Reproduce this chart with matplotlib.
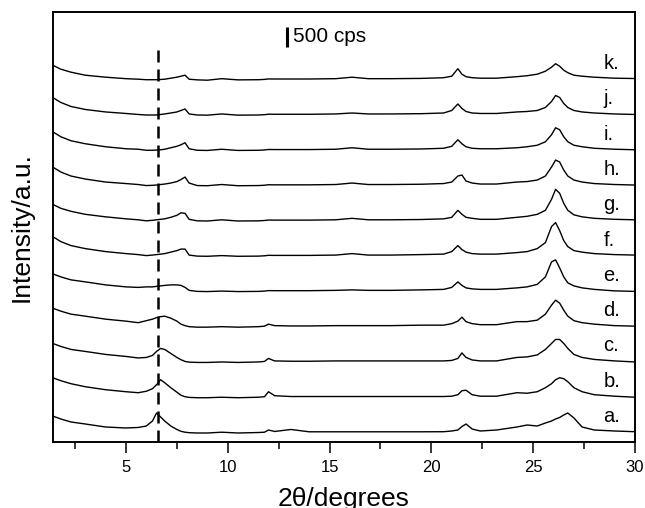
import matplotlib
matplotlib.use("Agg")
import matplotlib.pyplot as plt
import numpy as np

plt.rcParams["font.family"] = ["Liberation Sans", "DejaVu Sans"]

# 2theta grid (degrees) shared by all patterns
two_theta = [1.4, 1.8, 2.3, 3.0, 4.0, 5.0, 5.6,
             6.0, 6.3, 6.5, 6.7, 6.9, 7.2, 7.5, 7.7, 7.9, 8.1, 8.5,
             9.0, 9.7, 10.5, 11.5, 11.8, 12.0, 12.3, 13.1, 14.0, 15.3, 16.1, 16.9, 18.0, 19.5, 20.6,
             21.0, 21.3, 21.5, 21.7, 22.0, 22.4, 23.2,
             24.2, 24.7, 25.2, 25.6, 25.9, 26.1, 26.3, 26.5, 26.7, 27.0, 27.4, 28.0, 29.0, 30.0]

# intensities (cps above each pattern's own baseline)
trace_a = [425, 350, 275, 225, 150, 125, 138,
           175, 300, 500, 400, 300, 175, 88, 42, 20, 8, 0,
           0, 20, 0, 12, 20, 75, 38, 88, 30, 30, 30, 30, 30, 30, 32,
           50, 75, 162, 225, 100, 50, 75,
           150, 200, 175, 250, 300, 350, 388, 450, 500, 375, 150, 75, 50, 32]
trace_b = [500, 425, 350, 275, 200, 150, 125,
           162, 225, 325, 450, 375, 250, 138, 62, 25, 8, 0,
           0, 12, 0, 12, 25, 150, 50, 30, 30, 30, 30, 30, 30, 30, 30,
           38, 75, 175, 188, 75, 38, 38,
           125, 112, 150, 250, 350, 450, 500, 475, 400, 250, 150, 75, 38, 12]
trace_c = [475, 400, 325, 275, 200, 150, 112,
           125, 175, 275, 350, 325, 225, 125, 68, 25, 8, 0,
           0, 12, 0, 12, 25, 100, 38, 30, 30, 38, 38, 38, 38, 38, 38,
           50, 100, 238, 125, 62, 38, 38,
           125, 138, 188, 325, 475, 575, 575, 475, 350, 200, 125, 75, 38, 12]
trace_d = [475, 400, 325, 275, 200, 150, 112,
           162, 200, 238, 262, 275, 225, 150, 75, 38, 12, 0,
           0, 12, 0, 12, 25, 75, 38, 30, 30, 38, 38, 38, 38, 50, 50,
           88, 150, 250, 138, 88, 62, 62,
           138, 138, 175, 325, 550, 675, 600, 425, 275, 162, 112, 75, 38, 25]
trace_e = [450, 375, 300, 250, 175, 125, 112,
           125, 125, 138, 150, 162, 175, 175, 162, 112, 38, 12,
           8, 20, 8, 12, 20, 32, 30, 30, 30, 38, 50, 38, 38, 50, 62,
           112, 250, 162, 100, 75, 62, 62,
           100, 125, 188, 375, 750, 800, 600, 375, 225, 150, 100, 62, 25, 12]
trace_f = [500, 375, 275, 200, 125, 75, 50,
           25, 38, 50, 62, 75, 112, 150, 188, 188, 38, 12,
           8, 25, 8, 12, 20, 32, 30, 30, 30, 38, 75, 38, 38, 50, 62,
           125, 275, 175, 112, 75, 62, 62,
           100, 125, 200, 350, 750, 850, 650, 400, 250, 150, 112, 75, 50, 38]
trace_g = [425, 325, 250, 175, 112, 62, 38,
           12, 25, 38, 50, 62, 100, 150, 212, 200, 50, 12,
           8, 38, 8, 12, 20, 32, 30, 30, 30, 38, 75, 38, 38, 45, 62,
           100, 275, 175, 100, 75, 50, 50,
           100, 125, 175, 275, 550, 800, 700, 450, 275, 162, 112, 75, 50, 38]
trace_h = [475, 350, 250, 175, 100, 62, 38,
           12, 18, 25, 38, 50, 75, 112, 162, 225, 75, 12,
           8, 38, 8, 12, 20, 32, 30, 30, 30, 38, 75, 38, 38, 45, 62,
           100, 250, 275, 125, 75, 50, 50,
           100, 112, 150, 250, 475, 650, 600, 400, 250, 150, 100, 62, 38, 25]
trace_i = [475, 350, 250, 175, 100, 50, 38,
           12, 12, 18, 25, 38, 75, 112, 150, 200, 50, 12,
           8, 38, 8, 12, 20, 32, 30, 30, 30, 38, 75, 38, 38, 45, 62,
           112, 275, 175, 100, 62, 50, 50,
           75, 100, 138, 225, 400, 575, 525, 350, 225, 138, 100, 62, 38, 25]
trace_j = [450, 325, 225, 150, 88, 50, 25,
           12, 12, 12, 25, 38, 62, 88, 125, 162, 38, 12,
           8, 38, 8, 12, 20, 32, 30, 30, 30, 38, 62, 38, 38, 45, 62,
           125, 288, 175, 100, 62, 50, 50,
           88, 100, 125, 200, 350, 500, 450, 300, 200, 125, 88, 62, 38, 25]
trace_k = [375, 275, 200, 125, 75, 38, 25,
           12, 12, 12, 18, 25, 50, 75, 100, 125, 25, 8,
           0, 38, 8, 12, 20, 32, 30, 30, 30, 38, 75, 38, 38, 45, 62,
           100, 288, 150, 88, 62, 50, 50,
           88, 112, 150, 225, 325, 412, 350, 250, 188, 125, 100, 75, 50, 42]

labels = ["a.", "b.", "c.", "d.", "e.", "f.", "g.", "h.", "i.", "j.", "k."]
traces = [trace_a, trace_b, trace_c, trace_d, trace_e, trace_f,
          trace_g, trace_h, trace_i, trace_j, trace_k]

step = 882          # vertical offset between patterns (cps)
scale_bar = 500     # cps
ref_peak = 6.57     # dashed reference line (2theta)

fig = plt.figure(figsize=(6.45, 5.08), dpi=100)
ax = fig.add_axes([52.7 / 645, 66 / 508, 582.3 / 645, 430 / 508])

for i, (lab, y) in enumerate(zip(labels, traces)):
    off = i * step
    ax.plot(two_theta, np.array(y) + off, color="black", lw=1.0)
    ax.text(28.45, off + 275, lab, fontsize=14.5, va="baseline")

ymin, ymax = -225, 10525
ax.plot([ref_peak, ref_peak], [ymin, 9575], color="black", lw=1.8,
        linestyle=(0, (4.8, 2.8)))

# scale bar
ax.plot([12.9, 12.9], [9650, 9650 + scale_bar], color="black", lw=2.2,
        solid_capstyle="butt")
ax.text(13.2, 9650 + scale_bar / 2, f"{scale_bar} cps", fontsize=15, va="center")

ax.set_xlim(1.4, 30)
ax.set_ylim(ymin, ymax)
ax.set_xticks([5, 10, 15, 20, 25, 30])
ax.set_xticks([2.5, 7.5, 12.5, 17.5, 22.5, 27.5], minor=True)
ax.set_yticks([])
ax.tick_params(axis="x", which="major", length=8, width=1.1, labelsize=12, pad=5)
ax.tick_params(axis="x", which="minor", length=5, width=1.1)
for s in ax.spines.values():
    s.set_linewidth(1.4)

ax.set_xlabel("2θ/degrees", fontsize=19)
ax.set_ylabel("Intensity/a.u.", fontsize=19)
ax.xaxis.set_label_coords(0.5, -0.104)
ax.yaxis.set_label_coords(-0.032, 0.5)

fig.savefig("out.png", dpi=100)
